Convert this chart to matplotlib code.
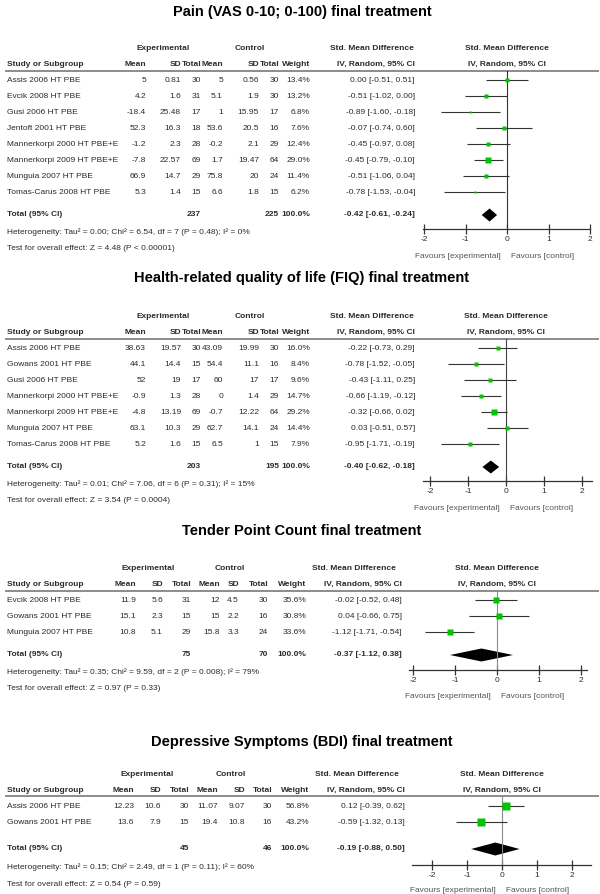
import matplotlib
matplotlib.use("Agg")
import matplotlib.pyplot as plt

plt.rcParams['font.family'] = ['Liberation Sans', 'DejaVu Sans']

# ---------------- DATA ----------------
pain_title = "Pain (VAS 0-10; 0-100) final treatment"
pain_study = ["Assis 2006 HT PBE", "Evcik 2008 HT PBE", "Gusi 2006 HT PBE", "Jentoft 2001 HT PBE",
              "Mannerkorpi 2000 HT PBE+E", "Mannerkorpi 2009 HT PBE+E", "Munguia 2007 HT PBE",
              "Tomas-Carus 2008 HT PBE"]
pain_exp_mean = [5, 4.2, -18.4, 52.3, -1.2, -7.8, 66.9, 5.3]
pain_exp_sd = [0.81, 1.6, 25.48, 16.3, 2.3, 22.57, 14.7, 1.4]
pain_exp_n = [30, 31, 17, 18, 28, 69, 29, 15]
pain_ctl_mean = [5, 5.1, 1, 53.6, -0.2, 1.7, 75.8, 6.6]
pain_ctl_sd = [0.56, 1.9, 15.95, 20.5, 2.1, 19.47, 20, 1.8]
pain_ctl_n = [30, 30, 17, 16, 29, 64, 24, 15]
pain_weight = [13.4, 13.2, 6.8, 7.6, 12.4, 29.0, 11.4, 6.2]
pain_smd = [0.00, -0.51, -0.89, -0.07, -0.45, -0.45, -0.51, -0.78]
pain_lo = [-0.51, -1.02, -1.60, -0.74, -0.97, -0.79, -1.06, -1.53]
pain_hi = [0.51, 0.00, -0.18, 0.60, 0.08, -0.10, 0.04, -0.04]
pain_pooled = [-0.42, -0.61, -0.24]
pain_het = ["0.00", "6.54", "7", "= 0.48", "0%"]
pain_test = ["4.48", "< 0.00001"]

fiq_title = "Health-related quality of life (FIQ) final treatment"
fiq_study = ["Assis 2006 HT PBE", "Gowans 2001 HT PBE", "Gusi 2006 HT PBE",
             "Mannerkorpi 2000 HT PBE+E", "Mannerkorpi 2009 HT PBE+E", "Munguia 2007 HT PBE",
             "Tomas-Carus 2008 HT PBE"]
fiq_exp_mean = [38.63, 44.1, 52, -0.9, -4.8, 63.1, 5.2]
fiq_exp_sd = [19.57, 14.4, 19, 1.3, 13.19, 10.3, 1.6]
fiq_exp_n = [30, 15, 17, 28, 69, 29, 15]
fiq_ctl_mean = [43.09, 54.4, 60, 0, -0.7, 62.7, 6.5]
fiq_ctl_sd = [19.99, 11.1, 17, 1.4, 12.22, 14.1, 1]
fiq_ctl_n = [30, 16, 17, 29, 64, 24, 15]
fiq_weight = [16.0, 8.4, 9.6, 14.7, 29.2, 14.4, 7.9]
fiq_smd = [-0.22, -0.78, -0.43, -0.66, -0.32, 0.03, -0.95]
fiq_lo = [-0.73, -1.52, -1.11, -1.19, -0.66, -0.51, -1.71]
fiq_hi = [0.29, -0.05, 0.25, -0.12, 0.02, 0.57, -0.19]
fiq_pooled = [-0.40, -0.62, -0.18]
fiq_het = ["0.01", "7.06", "6", "= 0.31", "15%"]
fiq_test = ["3.54", "= 0.0004"]

tpc_title = "Tender Point Count final treatment"
tpc_study = ["Evcik 2008 HT PBE", "Gowans 2001 HT PBE", "Munguia 2007 HT PBE"]
tpc_exp_mean = [11.9, 15.1, 10.8]
tpc_exp_sd = [5.6, 2.3, 5.1]
tpc_exp_n = [31, 15, 29]
tpc_ctl_mean = [12, 15, 15.8]
tpc_ctl_sd = [4.5, 2.2, 3.3]
tpc_ctl_n = [30, 16, 24]
tpc_weight = [35.6, 30.8, 33.6]
tpc_smd = [-0.02, 0.04, -1.12]
tpc_lo = [-0.52, -0.66, -1.71]
tpc_hi = [0.48, 0.75, -0.54]
tpc_pooled = [-0.37, -1.12, 0.38]
tpc_het = ["0.35", "9.59", "2", "= 0.008", "79%"]
tpc_test = ["0.97", "= 0.33"]

bdi_title = "Depressive Symptoms (BDI) final treatment"
bdi_study = ["Assis 2006 HT PBE", "Gowans 2001 HT PBE"]
bdi_exp_mean = [12.23, 13.6]
bdi_exp_sd = [10.6, 7.9]
bdi_exp_n = [30, 15]
bdi_ctl_mean = [11.07, 19.4]
bdi_ctl_sd = [9.07, 10.8]
bdi_ctl_n = [30, 16]
bdi_weight = [56.8, 43.2]
bdi_smd = [0.12, -0.59]
bdi_lo = [-0.39, -1.32]
bdi_hi = [0.62, 0.13]
bdi_pooled = [-0.19, -0.88, 0.50]
bdi_het = ["0.15", "2.49", "1", "= 0.11", "60%"]
bdi_test = ["0.54", "= 0.59"]

total_weight = 100.0
axis_ticks = [-2, -1, 0, 1, 2]

# ---------------- LAYOUT (pixels) ----------------
W, H = 600, 894
layouts = [
    dict(title=12, h1=48, h2=64, hline=71, row0=80, dy=16, total=215, het=232, test=248,
         axis=229, fav=256, zero=507, unit=41.5, ax0=423, ax1=590, zcol='#333333',
         cols=[146, 181, 201, 223, 259, 279, 310, 415], c_exp=163, c_ctl=250, c_smd=372),
    dict(title=278, h1=316, h2=332, hline=339, row0=348, dy=16, total=467, het=484, test=500,
         axis=481, fav=508, zero=506, unit=38.0, ax0=423, ax1=592, zcol='#444444',
         cols=[146, 181, 201, 223, 259, 279, 310, 415], c_exp=163, c_ctl=250, c_smd=372),
    dict(title=531, h1=568, h2=584, hline=591, row0=600, dy=16, total=655, het=672, test=688,
         axis=670, fav=696, zero=497, unit=42.0, ax0=409, ax1=587, zcol='#8a8a8a',
         cols=[136, 163, 191, 220, 239, 268, 306, 402], c_exp=148, c_ctl=230, c_smd=354),
    dict(title=742, h1=774, h2=790, hline=796, row0=806, dy=16, total=849, het=867, test=884,
         axis=865, fav=890, zero=502, unit=35.0, ax0=412, ax1=591, zcol='#8a8a8a',
         cols=[134, 161, 189, 218, 245, 272, 309, 405], c_exp=147, c_ctl=231, c_smd=357),
]

panels = [
    (pain_title, pain_study, pain_exp_mean, pain_exp_sd, pain_exp_n, pain_ctl_mean, pain_ctl_sd,
     pain_ctl_n, pain_weight, pain_smd, pain_lo, pain_hi, pain_pooled, pain_het, pain_test),
    (fiq_title, fiq_study, fiq_exp_mean, fiq_exp_sd, fiq_exp_n, fiq_ctl_mean, fiq_ctl_sd,
     fiq_ctl_n, fiq_weight, fiq_smd, fiq_lo, fiq_hi, fiq_pooled, fiq_het, fiq_test),
    (tpc_title, tpc_study, tpc_exp_mean, tpc_exp_sd, tpc_exp_n, tpc_ctl_mean, tpc_ctl_sd,
     tpc_ctl_n, tpc_weight, tpc_smd, tpc_lo, tpc_hi, tpc_pooled, tpc_het, tpc_test),
    (bdi_title, bdi_study, bdi_exp_mean, bdi_exp_sd, bdi_exp_n, bdi_ctl_mean, bdi_ctl_sd,
     bdi_ctl_n, bdi_weight, bdi_smd, bdi_lo, bdi_hi, bdi_pooled, bdi_het, bdi_test),
]

FS = 6.0
TXT = '#2b2b2b'
GREEN = '#00c400'

fig = plt.figure(figsize=(W / 100, H / 100), dpi=100)
fig.patch.set_facecolor('white')
bg = fig.add_axes([0, 0, 1, 1])
bg.set_xlim(0, W)
bg.set_ylim(H, 0)
bg.axis('off')


def fmt(v):
    return f"{v:g}"


for L, P in zip(layouts, panels):
    (title, study, em, esd, en, cm, csd, cn, wt, smd, lo, hi, pooled, het, test) = P
    c = L['cols']
    bg.text(302, L['title'], title, ha='center', va='center', fontsize=10.5,
            fontweight='bold', color='black')
    # header row 1
    for x, s in [(L['c_exp'], 'Experimental'), (L['c_ctl'], 'Control'),
                 (L['c_smd'], 'Std. Mean Difference'), (L['zero'], 'Std. Mean Difference')]:
        bg.text(x, L['h1'], s, ha='center', va='center', fontsize=FS, fontweight='bold', color=TXT)
    # header row 2
    bg.text(7, L['h2'], 'Study or Subgroup', ha='left', va='center', fontsize=FS,
            fontweight='bold', color=TXT)
    for x, s in zip(c, ['Mean', 'SD', 'Total', 'Mean', 'SD', 'Total', 'Weight',
                        'IV, Random, 95% CI']):
        bg.text(x, L['h2'], s, ha='right', va='center', fontsize=FS, fontweight='bold', color=TXT)
    bg.text(L['zero'], L['h2'], 'IV, Random, 95% CI', ha='center', va='center', fontsize=FS,
            fontweight='bold', color=TXT)
    bg.plot([5, 599], [L['hline'], L['hline']], color='#6e6e6e', lw=1.1, solid_capstyle='butt')

    # rows
    ys = [L['row0'] + i * L['dy'] for i in range(len(study))]
    for i, y in enumerate(ys):
        bg.text(7, y, study[i], ha='left', va='center', fontsize=FS, color=TXT)
        vals = [fmt(em[i]), fmt(esd[i]), str(en[i]), fmt(cm[i]), fmt(csd[i]), str(cn[i]),
                f"{wt[i]:.1f}%", f"{smd[i]:.2f} [{lo[i]:.2f}, {hi[i]:.2f}]"]
        for x, s in zip(c, vals):
            bg.text(x, y, s, ha='right', va='center', fontsize=FS, color=TXT)

    # total row
    ty = L['total']
    bg.text(7, ty, 'Total (95% CI)', ha='left', va='center', fontsize=FS, fontweight='bold', color=TXT)
    for x, s in [(c[2], str(sum(en))), (c[5], str(sum(cn))), (c[6], f"{total_weight:.1f}%"),
                 (c[7], f"{pooled[0]:.2f} [{pooled[1]:.2f}, {pooled[2]:.2f}]")]:
        bg.text(x, ty, s, ha='right', va='center', fontsize=FS, fontweight='bold', color=TXT)
    bg.text(7, L['het'], f"Heterogeneity: Tau\u00b2 = {het[0]}; Chi\u00b2 = {het[1]}, df = {het[2]} "
            f"(P {het[3]}); I\u00b2 = {het[4]}", ha='left', va='center', fontsize=FS, color=TXT)
    bg.text(7, L['test'], f"Test for overall effect: Z = {test[0]} (P {test[1]})",
            ha='left', va='center', fontsize=FS, color=TXT)

    # forest axes
    ax = fig.add_axes([L['ax0'] / W, 1 - L['axis'] / H, (L['ax1'] - L['ax0']) / W,
                       (L['axis'] - L['hline']) / H])
    ax.set_xlim((L['ax0'] - L['zero']) / L['unit'], (L['ax1'] - L['zero']) / L['unit'])
    ax.set_ylim(L['axis'], L['hline'])
    ax.patch.set_visible(False)
    for s in ['top', 'left', 'right']:
        ax.spines[s].set_visible(False)
    ax.spines['bottom'].set_color('#333333')
    ax.spines['bottom'].set_linewidth(0.9)
    ax.set_yticks([])
    ax.set_xticks(axis_ticks)
    ax.set_xticklabels([str(t) for t in axis_ticks])
    ax.tick_params(axis='x', direction='inout', length=6.5, width=0.9, color='#333333',
                   labelsize=FS, labelcolor=TXT, pad=1.5)
    ax.axvline(0, color=L['zcol'], lw=0.8)
    ax.hlines(ys, lo, hi, color='#333333', lw=0.8)
    for i, y in enumerate(ys):
        side = 1.15 * wt[i] ** 0.5 * 0.72
        ax.plot([smd[i]], [y], marker='s', ms=side, color=GREEN, mec='none', ls='none')
    hh = 6.5
    ax.fill([pooled[1], pooled[0], pooled[2], pooled[0]], [ty, ty - hh, ty, ty + hh],
            color='black', lw=0)

    bg.text(L['zero'] - 6, L['fav'], 'Favours [experimental]', ha='right', va='center',
            fontsize=FS, color='#555555')
    bg.text(L['zero'] + 4, L['fav'], 'Favours [control]', ha='left', va='center',
            fontsize=FS, color='#555555')

fig.savefig('out.png', dpi=100, facecolor='white')
